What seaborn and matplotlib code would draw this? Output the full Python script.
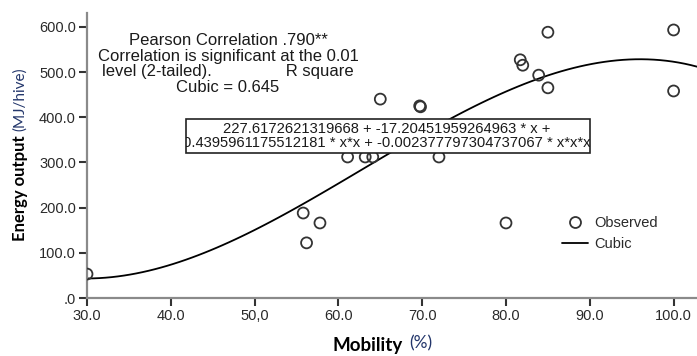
import numpy as np
import pandas as pd
import matplotlib
matplotlib.use("Agg")
import matplotlib.pyplot as plt
from matplotlib.patches import Rectangle
from matplotlib.lines import Line2D
import seaborn as sns

# ---- data ----
mobility = [30.0, 55.8, 56.2, 57.8, 61.1, 63.2, 64.1, 65.0, 69.7, 69.8, 72.0,
            80.0, 81.7, 82.0, 83.9, 85.0, 85.0, 100.0, 100.0]
energy = [53, 188, 122, 166, 312, 312, 312, 440, 425, 423, 312,
          166, 527, 515, 493, 588, 465, 593, 458]
x_ticks = [30, 40, 50, 60, 70, 80, 90, 100]
x_tick_labels = ["30.0", "40.0", "50,0", "60.0", "70.0", "80.0", "90.0", "100.0"]
y_ticks = [0, 100, 200, 300, 400, 500, 600]
y_tick_labels = [".0", "100.0", "200.0", "300.0", "400.0", "500.0", "600.0"]
stats_text = ("Pearson Correlation .790**\n"
              "Correlation is significant at the 0.01\n"
              "level (2-tailed).                R square\n"
              "Cubic = 0.645")
equation_text = ("227.6172621319668 + -17.20451959264963 * x +\n"
                 "0.4395961175512181 * x*x + -0.002377797304737067 * x*x*x")
legend_labels = ["Observed", "Cubic"]

df = pd.DataFrame({"Mobility": mobility, "Energy": energy})

W, H = 697, 356
sns.set_theme(style="white")
plt.rcParams["font.family"] = ["Liberation Sans", "DejaVu Sans"]

fig = plt.figure(figsize=(W / 100, H / 100), dpi=100)
fig.patch.set_facecolor("white")

def fx(px):
    return px / W

def fy(py):
    return 1 - py / H

ax = fig.add_axes([fx(87), fy(298), fx(697) - fx(87), fy(13) - fy(298)])
ax.set_xlim(30, 30 + (697 - 87) / 8.38)
ax.set_ylim(0, (298 - 13) / 0.452)

# cubic fit line drawn by seaborn's regression
sns.regplot(data=df, x="Mobility", y="Energy", order=3, ci=None, truncate=False,
            scatter=False, ax=ax, line_kws=dict(color="black", lw=1.3, zorder=2))
sns.scatterplot(data=df, x="Mobility", y="Energy", ax=ax, marker="o", s=62,
                facecolor="none", edgecolor="#333333", linewidth=1.3, zorder=3)

ax.set_xlim(30, 30 + (697 - 87) / 8.38)
ax.set_ylim(0, (298 - 13) / 0.452)
ax.set_xticks(x_ticks)
ax.set_xticklabels(x_tick_labels)
ax.set_yticks(y_ticks)
ax.set_yticklabels(y_tick_labels)
ax.set_xlabel("")
ax.set_ylabel("")
for s in ["top", "right"]:
    ax.spines[s].set_visible(False)
for s in ["left", "bottom"]:
    ax.spines[s].set_color("#8a8a8a")
    ax.spines[s].set_linewidth(1.6)
ax.tick_params(axis="both", which="major", direction="out", length=6, width=1.5,
               color="#333333", labelsize=10.5, labelcolor="#2a2a2a", pad=2,
               bottom=True, left=True)
ax.set_facecolor("white")

# statistics annotation
fig.text(fx(228), fy(64), stats_text, ha="center", va="center",
         multialignment="center", fontsize=12, color="#1a1a1a", linespacing=1.07)

# equation box with clipped text
rect = Rectangle((fx(186), fy(153)), fx(590) - fx(186), fy(119) - fy(153),
                 transform=fig.transFigure, facecolor="white", edgecolor="#222222",
                 lw=1.2, zorder=5)
fig.add_artist(rect)
t = fig.text(fx(387), fy(136), equation_text, ha="center", va="center",
             multialignment="center", fontsize=10.6, color="#1a1a1a",
             linespacing=1.0, zorder=6)
t.set_clip_path(rect)

# legend
handles = [Line2D([], [], marker="o", linestyle="none", markersize=7.9,
                  markerfacecolor="none", markeredgecolor="#333333", markeredgewidth=1.3),
           Line2D([], [], color="black", lw=1.3)]
ax.legend(handles, legend_labels, loc="upper left", frameon=False,
          bbox_to_anchor=(fx(562), fy(216)), bbox_transform=fig.transFigure,
          fontsize=10.5, handlelength=1.8, handletextpad=0.4, labelspacing=0.5,
          borderpad=0, borderaxespad=0, labelcolor="#2a2a2a")

# axis labels with mixed styles
navy = "#23366b"
fig.canvas.draw()
r = fig.canvas.get_renderer()
t1 = fig.text(fx(333), fy(345), "Mobility", ha="left", va="center",
              fontsize=13.5, fontweight="bold", color="black", family=["Lato", "DejaVu Sans"])
bb = t1.get_window_extent(renderer=r)
fig.text(bb.x1 / W + fx(6), fy(343), "(%)", ha="left", va="center",
         fontsize=12.5, color=navy, family=["Lato", "DejaVu Sans"])

t2 = fig.text(fx(20), fy(241), "Energy output", ha="center", va="bottom",
              rotation=90, fontsize=12, fontweight="bold", color="black",
              family=["Lato", "DejaVu Sans"])
bb2 = t2.get_window_extent(renderer=r)
fig.text(fx(20), bb2.y1 / H + 4 / H, "(MJ/hive)", ha="center", va="bottom",
         rotation=90, fontsize=11, color=navy, family=["Lato", "DejaVu Sans"])

fig.savefig("out.png", dpi=100)
